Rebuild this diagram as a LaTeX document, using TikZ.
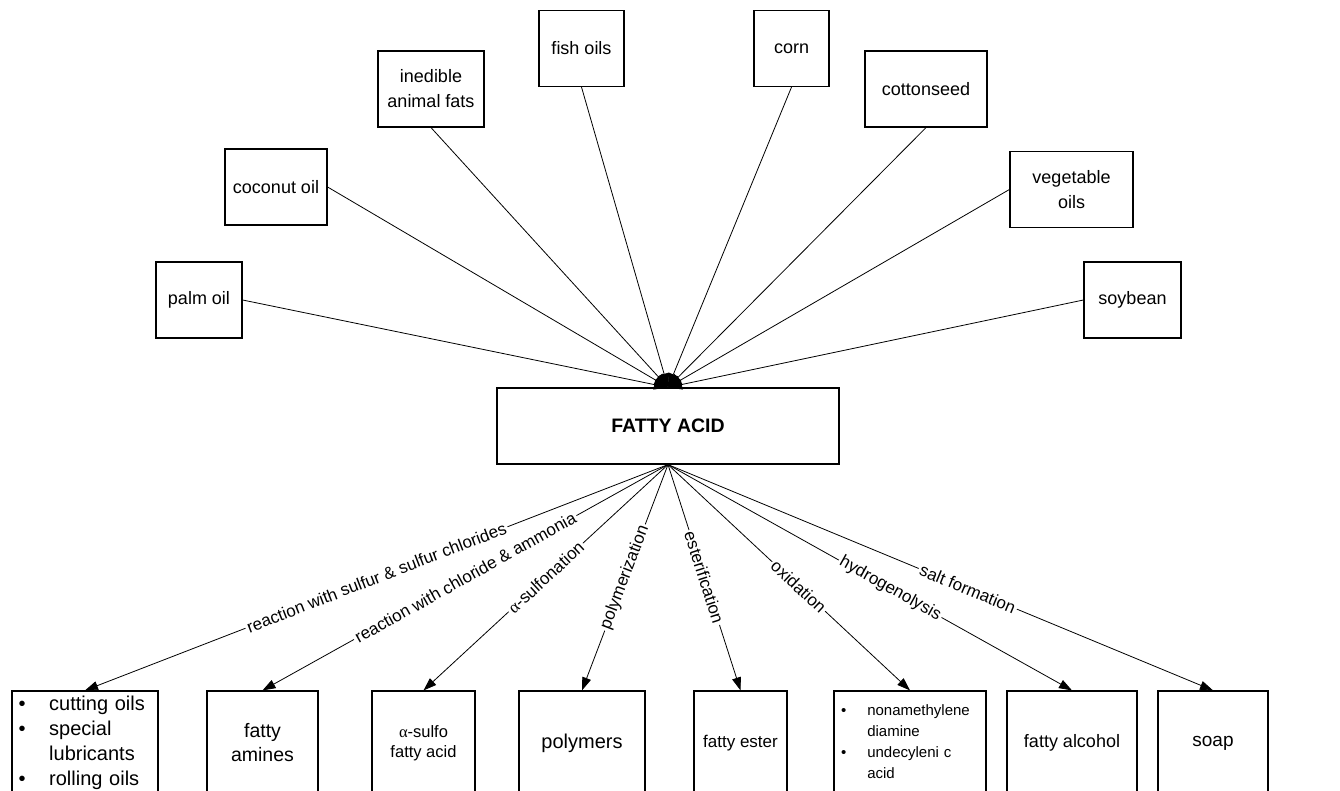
\documentclass[tikz,border=0pt]{standalone}
\usepackage{fontspec}
\setmainfont{Liberation Sans}
\newfontfamily\greekfont{Liberation Serif}
\usetikzlibrary{arrows.meta}

\tikzset{
  src/.style={draw, line width=1.2pt, minimum height=76pt, inner sep=0pt, align=center, font=\fontsize{18}{25}\selectfont},
  prod/.style={draw, line width=1.2pt, minimum height=104pt, inner sep=0pt, align=center, font=\fontsize{19}{24}\selectfont},
  feed/.style={-{Triangle[length=14pt, width=10pt]}, line width=0.8pt},
  rxn/.style={-{Triangle[length=13pt, width=9pt]}, line width=0.8pt},
  lbl/.style={sloped, fill=white, inner sep=2pt, font=\fontsize{17}{20}\selectfont}
}

\begin{document}
\begin{tikzpicture}[x=1pt, y=-1pt]
  \useasboundingbox (0,0) rectangle (1340,791);
  % Acidul gras
  \node[draw, line width=1.2pt, minimum width=342pt, minimum height=76pt,
        font=\fontsize{19.5}{22}\selectfont\bfseries] (fa) at (668,426) {FATTY ACID};
  % Surse (materii prime)
  \foreach \n/\a/\x/\y/\w/\t in {palm/east/199/300/86/palm oil, coco/east/276/187/102/coconut oil,
      fats/south/431/89/106/{inedible\\animal fats}, fish/south/581.5/48.5/85/fish oils,
      corn/south/791.5/48.5/75/corn, cotton/south/926/89/122/cottonseed,
      veg/west/1071.5/189.5/123/{vegetable\\oils}, soy/west/1132.5/300/97/soybean} {
    \node[src, minimum width=\w] (\n) at (\x,\y) {\t};
    \draw[feed] (\n.\a) -- (fa.north);
  }
  % Produse
  \node[prod, minimum width=146pt, text width=132.6pt, align=left,
        font=\fontsize{20}{25}\selectfont] (cut) at (85,743)
    {\begin{tabular}{@{}l@{\hspace{23.5pt}}l@{}}
      • & cutting oils\\ • & special\\ & lubricants\\ • & rolling oils
    \end{tabular}};
  \node[prod, minimum width=111pt, font=\fontsize{19.5}{24}\selectfont] (amine) at (262.5,743) {fatty\\amines};
  \node[prod, minimum width=103pt, font=\fontsize{16.5}{20}\selectfont] (sulfo) at (423.5,743)
    {{\greekfont α}-sulfo\\fatty acid};
  \node[prod, minimum width=126pt, font=\fontsize{20}{24}\selectfont] (poly) at (582,743) {polymers};
  \node[prod, minimum width=93pt, font=\fontsize{17}{20}\selectfont] (ester) at (740.5,743) {fatty ester};
  \node[prod, minimum width=152pt, text width=138pt, align=left,
        font=\fontsize{15}{21}\selectfont] (nona) at (910,743)
    {\begin{tabular}{@{}l@{\hspace{21pt}}l@{}}
      • & nonamethylene\\ & diamine\\ • & undecyleni c\\ & acid
    \end{tabular}};
  \node[prod, minimum width=130pt, font=\fontsize{18}{24}\selectfont] (alc) at (1072,743) {fatty alcohol};
  \node[prod, minimum width=110pt] (soap) at (1213,743) {soap};
  % Reactii
  \foreach \n/\p/\t in {cut/0.5/reaction with sulfur \& sulfur chlorides,
      amine/0.5/reaction with chloride \& ammonia,
      sulfo/0.5/{{\greekfont α}-sulfonation}, poly/0.5/polymerization,
      ester/0.5/esterification, nona/0.54/oxidation,
      alc/0.55/hydrogenolysis, soap/0.55/salt formation}
    \draw[rxn] (fa.south) -- node[lbl, pos=\p] {\t} (\n.north);
\end{tikzpicture}
\end{document}
